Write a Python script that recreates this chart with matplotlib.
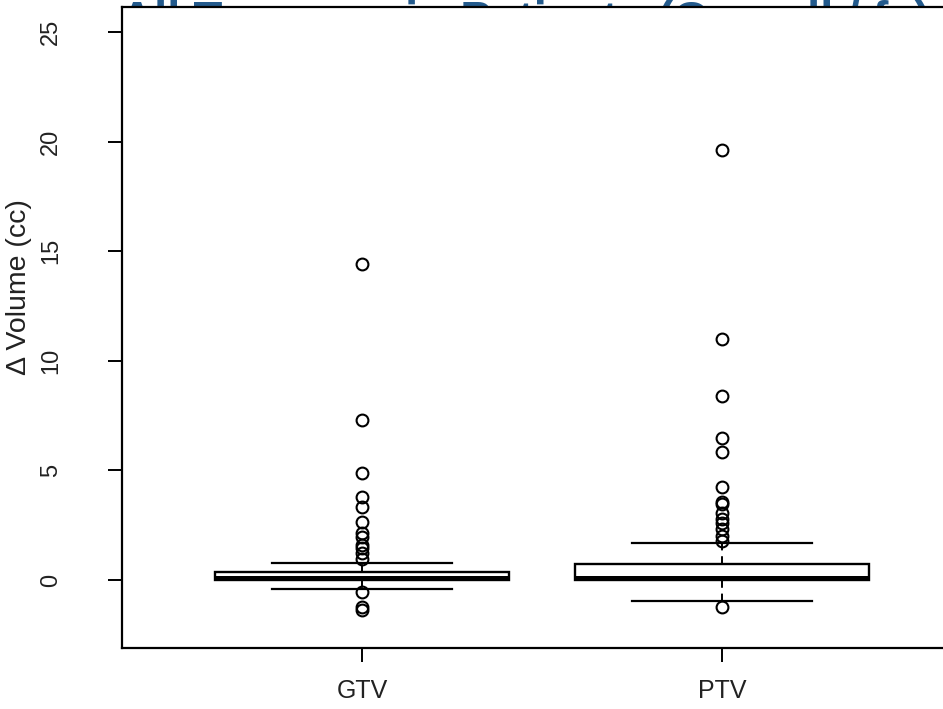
import matplotlib
matplotlib.use("Agg")
import matplotlib.pyplot as plt

plt.rcParams['font.family'] = ['Liberation Sans', 'DejaVu Sans']

# ---- data ----
categories = ["GTV", "PTV"]
q1 = [-0.02, 0.00]
median = [0.08, 0.10]
q3 = [0.35, 0.73]
whisker_low = [-0.40, -0.96]
whisker_high = [0.80, 1.69]
gtv_outliers = [14.4, 7.3, 4.87, 3.77, 3.34, 2.63, 2.13, 1.98, 1.6, 1.45,
                1.22, 0.96, -0.55, -1.22, -1.37]
ptv_outliers = [19.6, 11.0, 8.4, 6.5, 5.85, 4.25, 3.55, 3.45, 3.05, 2.8,
                2.6, 2.35, 2.0, 1.8, -1.25]
outliers = [gtv_outliers, ptv_outliers]
yticks = [0, 5, 10, 15, 20, 25]
ylabel = "Δ Volume (cc)"
title_text = "All Tumours in Patients (Overall / fx)"

W, H = 943, 709
fig = plt.figure(figsize=(W / 100, H / 100), dpi=100)

def px(x0, y0, x1, y1):
    return [x0 / W, 1 - y1 / H, (x1 - x0) / W, (y1 - y0) / H]

ax = fig.add_axes(px(122, 7, 950, 648))
ax.set_zorder(1)
ax.set_facecolor("white")

# partially hidden blue slide title behind the plot frame
fig.text(120 / W, 1 - 34.5 / H, title_text, fontsize=34, color="#235a8c",
         fontweight="bold", ha="left", va="baseline", zorder=0)

stats = []
for i, name in enumerate(categories):
    stats.append(dict(label=name, med=median[i], q1=q1[i], q3=q3[i],
                      whislo=whisker_low[i], whishi=whisker_high[i],
                      fliers=outliers[i]))

ax.bxp(stats, positions=[1, 2], widths=0.815, capwidths=0.5,
       patch_artist=True,
       boxprops=dict(facecolor="white", edgecolor="black", linewidth=1.7),
       medianprops=dict(color="black", linewidth=3.6),
       whiskerprops=dict(color="black", linewidth=1.4, linestyle=(0, (4, 3))),
       capprops=dict(color="black", linewidth=1.6),
       flierprops=dict(marker="o", markersize=8.5, markerfacecolor="none",
                       markeredgecolor="black", markeredgewidth=1.5))

ax.set_xlim(0.333, 2.633)
ax.set_ylim(-3.1, 26.14)
ax.set_yticks(yticks)
ax.set_yticklabels([str(t) for t in yticks])
ax.set_xticks([1, 2])
ax.set_xticklabels(categories)

for s in ax.spines.values():
    s.set_linewidth(1.6)

ax.tick_params(axis="y", length=10, width=1.4, pad=33, labelsize=17,
               labelcolor="#222222", labelrotation=90)
for lab in ax.get_yticklabels():
    lab.set_va("center")
ax.tick_params(axis="x", length=10, width=1.4, pad=12, labelsize=18,
               labelcolor="#222222")

ax.set_ylabel(ylabel, fontsize=20.5, color="#222222")
ax.yaxis.set_label_coords((32 - 122) / 828, (648 - 287) / 641)

fig.savefig("out.png", dpi=100)
